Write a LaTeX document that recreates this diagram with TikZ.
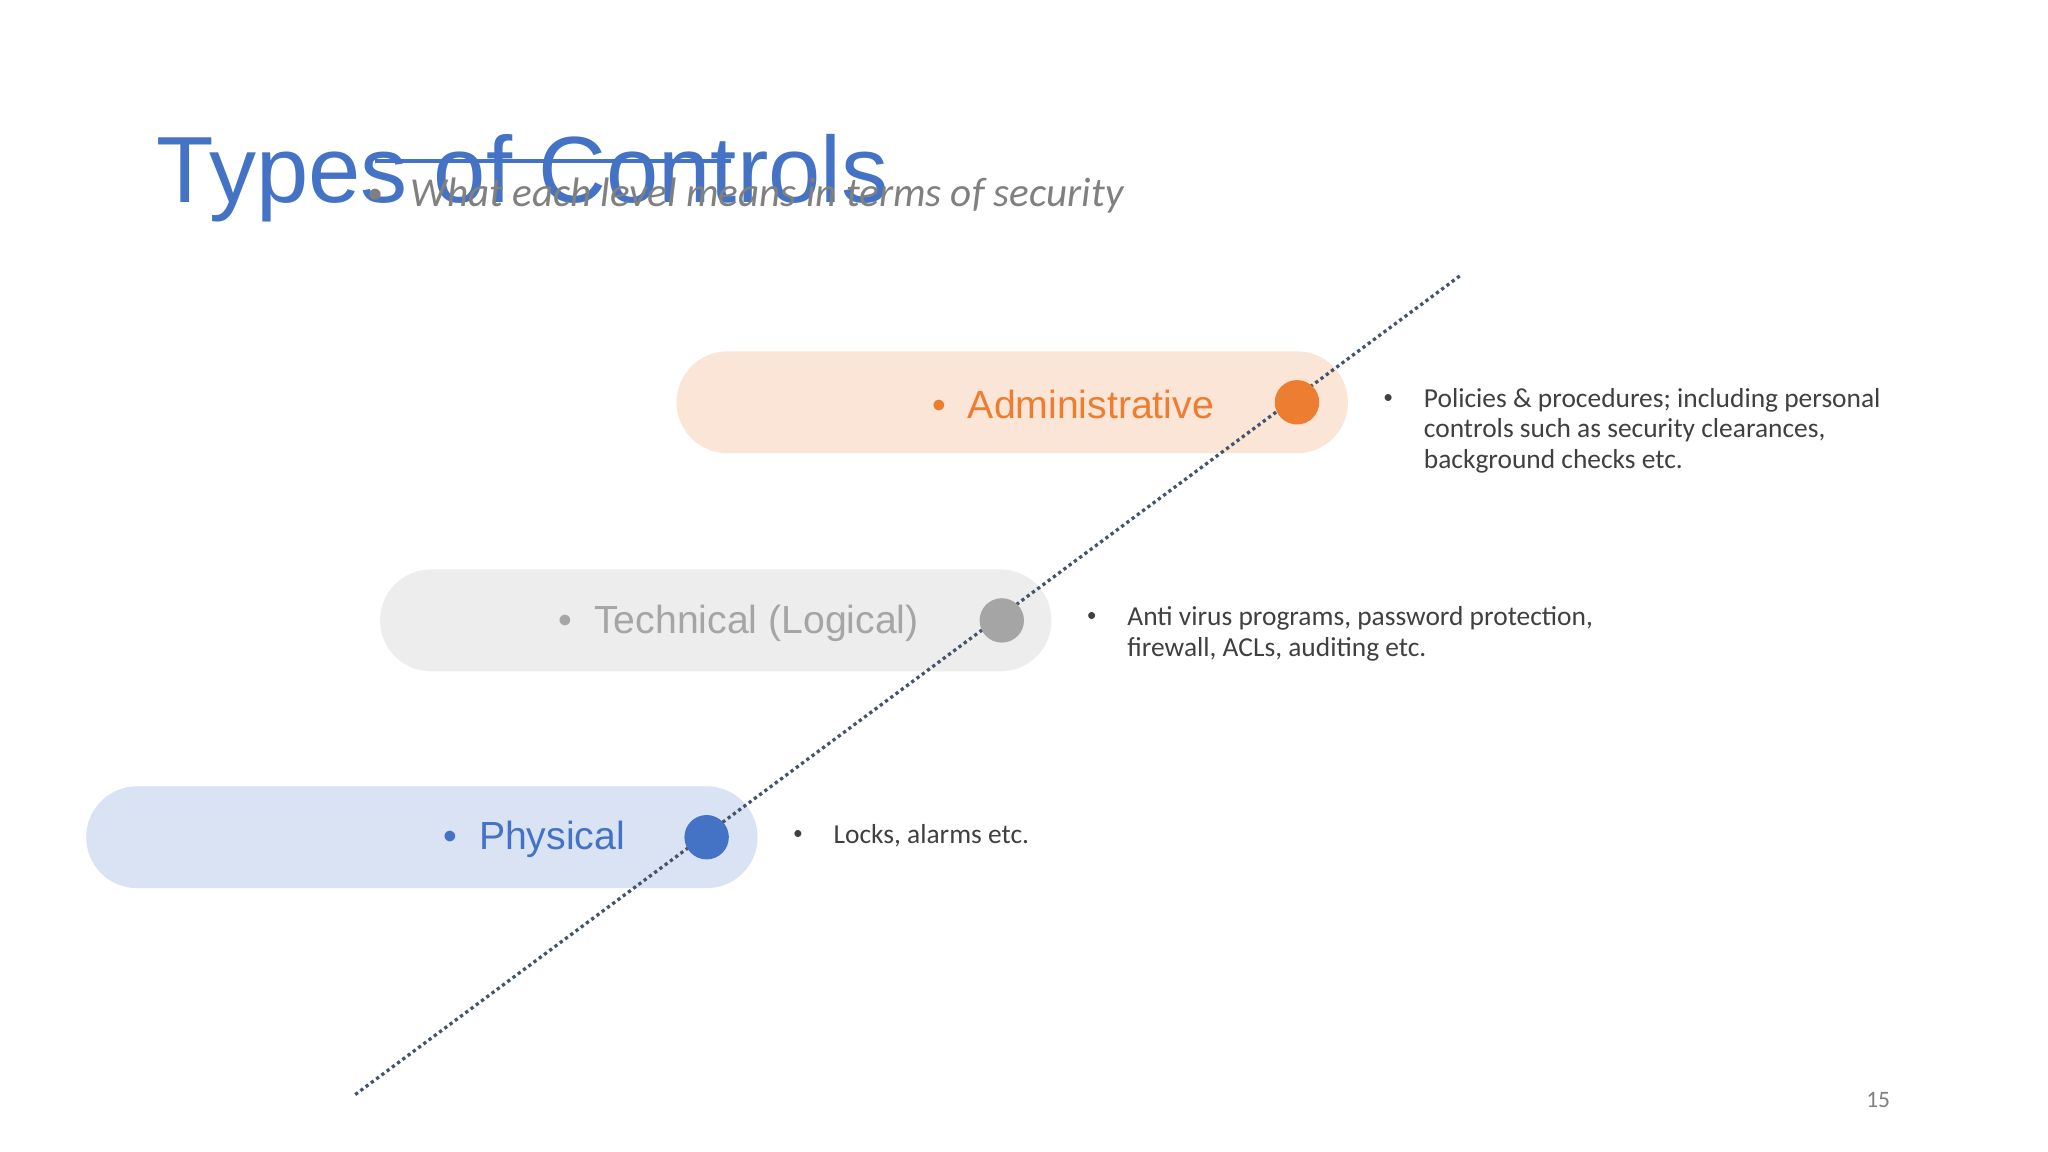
\documentclass[tikz,border=0pt]{standalone}
\usepackage{fontspec}
\setmainfont{Liberation Sans}
\newfontfamily\calfnt{Carlito}
\definecolor{tblue}{HTML}{4472C4}
\definecolor{torange}{HTML}{ED7D31}
\definecolor{tgray}{HTML}{A5A5A5}
\definecolor{ttext}{HTML}{404040}
\definecolor{tline}{HTML}{44546A}
\begin{document}
\begin{tikzpicture}[x=1pt,y=-1pt,
  pill/.style={rounded corners=39pt,minimum width=514pt,minimum height=78pt,inner sep=0pt},
  dot/.style={circle,inner sep=0pt,minimum size=34pt},
  lab/.style={anchor=east,font=\fontsize{30}{36}\selectfont},
  desc/.style={anchor=north west,align=left,text=ttext,font=\calfnt\fontsize{21}{23.5}\selectfont,inner sep=0pt}]
\useasboundingbox (0,0) rectangle (1568,882);
\fill[white] (0,0) rectangle (1568,882);
% pills
\node[pill,fill=torange!20] (pa) at (775,308) {};
\node[pill,fill=black!7] (pt) at (548,475) {};
\node[pill,fill=tblue!20] (pp) at (323,641) {};
% dotted line
\coordinate (l1) at (272,838);
\coordinate (l2) at (1118,211);
\draw[tline,line width=2.5pt,dash pattern=on 2.5pt off 2.5pt] (l1) -- (l2);
\node[dot,fill=torange] (da) at (993,308) {};
\node[dot,fill=tgray] (dt) at (767,475) {};
\node[dot,fill=tblue] (dp) at (541,641) {};
\node[lab,text=torange] (ta) at (933,310) {\textbullet\ \ Administrative};
\node[lab,text=tgray] (tt) at (707,477) {\textbullet\ \ Technical (Logical)};
\node[lab,text=tblue] (tp) at (482,643) {\textbullet\ \ Physical};
% descriptions
\node[desc,font=\calfnt\fontsize{15}{20}\selectfont] (ba) at (1059,302) {\textbullet};
\node[desc] (xa) at (1090,297) {Policies \& procedures; including personal\\controls such as security clearances,\\background checks etc.};
\node[desc,font=\calfnt\fontsize{15}{20}\selectfont] (bt) at (832,469) {\textbullet};
\node[desc] (xt) at (863,464) {Anti virus programs, password protection,\\firewall, ACLs, auditing etc.};
\node[desc,font=\calfnt\fontsize{15}{20}\selectfont] (bp) at (607,636) {\textbullet};
\node[desc] (xp) at (638,631) {Locks, alarms etc.};
% title
\node[anchor=base west,text=tblue,font=\fontsize{72}{80}\selectfont,inner sep=0pt] (title) at (120,155) {Types of Controls};
\coordinate (s1) at (287,123); \coordinate (s2) at (560,123);
\draw[tblue,line width=3pt] (s1) -- (s2);
\node[anchor=base west,text=gray,font=\calfnt\fontsize{24}{30}\selectfont,inner sep=0pt] (bsub) at (281,156) {\textbullet};
\node[anchor=base west,text=gray,font=\calfnt\itshape\fontsize{31.5}{36}\selectfont,inner sep=0pt] (sub) at (314,158) {What each level means in terms of security};
\node[anchor=base,text=gray,font=\calfnt\fontsize{18}{20}\selectfont] (pg) at (1438,848) {15};
\end{tikzpicture}
\end{document}
